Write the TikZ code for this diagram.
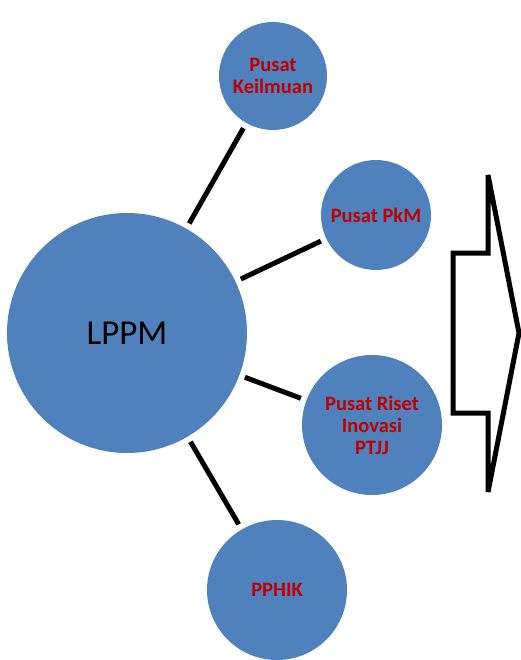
\documentclass[tikz,border=0pt]{standalone}
\usepackage{fontspec}
\setmainfont{Carlito}
\definecolor{cblue}{HTML}{4F81BD}
\definecolor{cred}{HTML}{C00000}
\begin{document}
\begin{tikzpicture}[x=1pt,y=-1pt,
  bub/.style={circle,fill=cblue,draw=none,inner sep=0pt,outer sep=6pt,align=center,
    font=\fontsize{20.5}{22}\selectfont\bfseries,text=cred},
  link/.style={line width=5pt,black}]
\useasboundingbox (0,0) rectangle (520,660);
\node[bub,minimum size=240pt,font=\fontsize{35}{40}\selectfont,text=black] (lppm) at (127,333) {LPPM};
\node[bub,minimum size=108pt] (keil) at (273,76) {Pusat\\Keilmuan};
\node[bub,minimum size=110pt] (pkm) at (376,215) {Pusat PkM};
\node[bub,minimum size=140pt] (riset) at (372,425) {Pusat Riset\\Inovasi\\PTJJ};
\node[bub,minimum size=140pt] (pphik) at (277,590) {PPHIK};
\draw[link] (lppm) -- (keil);
\draw[link] (lppm) -- (pkm);
\draw[link] (lppm) -- (riset);
\draw[link] (lppm) -- (pphik);
\coordinate (a1) at (488,175);
\coordinate (a2) at (488,253);
\coordinate (a3) at (453,253);
\coordinate (a4) at (453,413);
\coordinate (a5) at (488,413);
\coordinate (a6) at (488,492);
\coordinate (a7) at (519,333);
\draw[line width=5pt,line join=miter,fill=white] (a1) -- (a2) -- (a3) -- (a4) -- (a5) -- (a6) -- (a7) -- cycle;
\end{tikzpicture}
\end{document}
